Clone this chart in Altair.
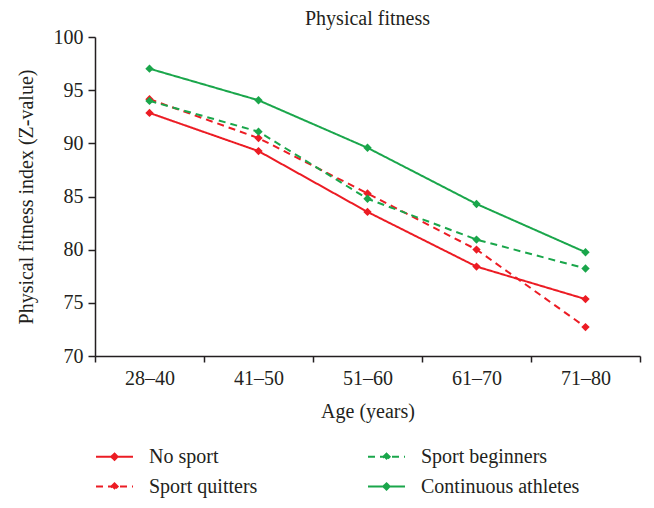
import altair as alt
import pandas as pd

# ---- data ----
ages = ["28–40", "41–50", "51–60", "61–70", "71–80"]
series_names = ["No sport", "Sport quitters", "Sport beginners", "Continuous athletes"]
no_sport = [92.86, 89.27, 83.55, 78.41, 75.35]
sport_quitters = [94.15, 90.49, 85.29, 80.01, 72.72]
sport_beginners = [93.99, 91.10, 84.79, 80.95, 78.23]
continuous_athletes = [97.02, 94.05, 89.58, 84.30, 79.76]
y_ticks = [70, 75, 80, 85, 90, 95, 100]

colors = ["#ec1c24", "#ec1c24", "#1aa64b", "#1aa64b"]
dashes = [[1, 0], [7, 5], [7, 5], [1, 0]]

values_by_series = {
    "No sport": no_sport,
    "Sport quitters": sport_quitters,
    "Sport beginners": sport_beginners,
    "Continuous athletes": continuous_athletes,
}
rows = []
for s in series_names:
    for a, v in zip(ages, values_by_series[s]):
        rows.append({"age": a, "value": v, "series": s})
df = pd.DataFrame(rows)

FONT = "Liberation Serif"
INK = "#231f20"
SYMBOL = "M-1,0H1M0,-0.17L0.17,0L0,0.17L-0.17,0Z"

legend_kw = dict(
    title=None,
    orient="none",
    legendX=0,
    legendY=400,
    columns=2,
    direction="vertical",
    gridAlign="all",
    columnPadding=56,
    rowPadding=-3,
    padding=0,
    symbolType=SYMBOL,
    symbolSize=1369,
    symbolStrokeWidth=2,
    labelFont=FONT,
    labelFontSize=20,
    labelColor=INK,
    labelOffset=15,
    labelLimit=400,
)

chart = (
    alt.Chart(df, title=alt.Title("Physical fitness", frame="group", offset=-2))
    .mark_line(
        strokeWidth=2,
        point=alt.OverlayMarkDef(shape="diamond", filled=True, size=70),
    )
    .encode(
        x=alt.X(
            "age:N",
            sort=ages,
            scale=alt.Scale(type="band", domain=ages, paddingInner=0, paddingOuter=0),
            axis=alt.Axis(
                title="Age (years)",
                labelAngle=0,
                tickBand="extent",
                tickSize=6,
                labelPadding=6,
                titlePadding=13,
            ),
        ),
        y=alt.Y(
            "value:Q",
            scale=alt.Scale(domain=[70, 100], nice=False, zero=False),
            axis=alt.Axis(
                values=y_ticks,
                title="Physical fitness index (Z-value)",
                tickSize=7,
                labelPadding=5,
                titlePadding=17,
            ),
        ),
        color=alt.Color(
            "series:N",
            scale=alt.Scale(domain=series_names, range=colors),
            legend=alt.Legend(**legend_kw),
        ),
        strokeDash=alt.StrokeDash(
            "series:N",
            scale=alt.Scale(domain=series_names, range=dashes),
            legend=alt.Legend(**legend_kw),
        ),
    )
    .properties(
        width=545,
        height=319,
        autosize=alt.AutoSizeParams(type="none"),
        padding={"left": 87, "top": 29, "right": 6, "bottom": 144},
    )
    .configure_view(stroke=None)
    .configure_axis(
        grid=False,
        domainColor=INK,
        tickColor=INK,
        labelColor=INK,
        titleColor=INK,
        domainWidth=1.5,
        tickWidth=1.5,
        labelFont=FONT,
        titleFont=FONT,
        labelFontSize=20,
        titleFontSize=20,
        titleFontWeight="normal",
    )
    .configure_title(
        font=FONT, fontSize=20, fontWeight="normal", color=INK, anchor="middle"
    )
)

chart.save("out.html", embed_options={"renderer": "svg", "actions": False})
